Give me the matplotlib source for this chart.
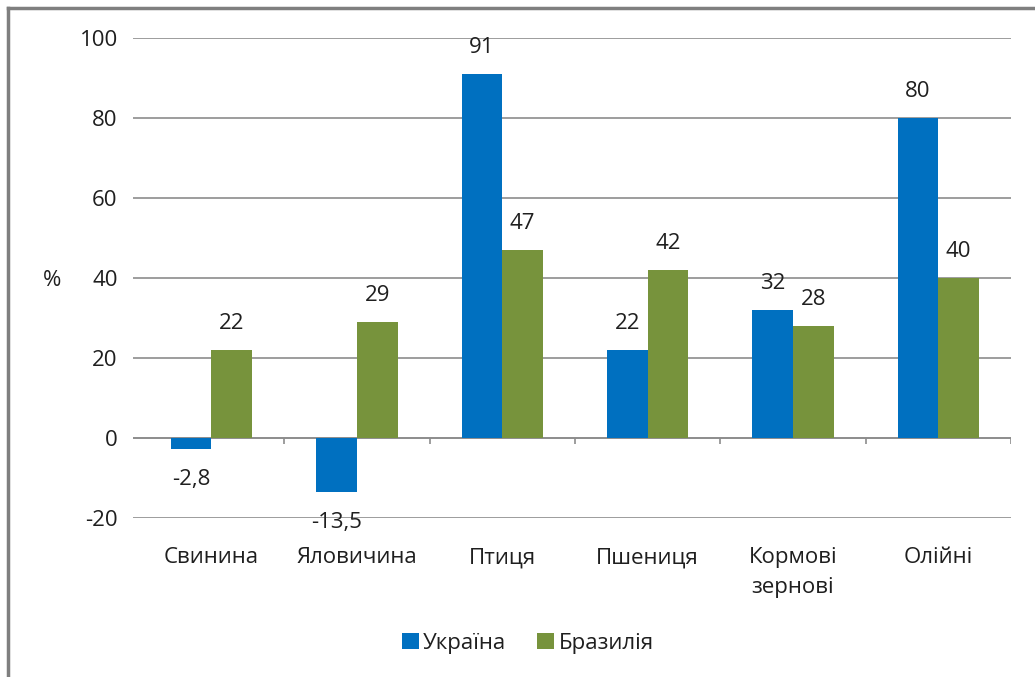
import matplotlib.pyplot as plt
import matplotlib.lines as mlines
import numpy as np

plt.rcParams['font.family'] = ['Open Sans', 'DejaVu Sans']
plt.rcParams['axes.unicode_minus'] = False

# Data
categories = ["Свинина", "Яловичина", "Птиця", "Пшениця", "Кормові\nзернові", "Олійні"]
ukraine = [-2.8, -13.5, 91, 22, 32, 80]
brazil = [22, 29, 47, 42, 28, 40]
series_names = ["Україна", "Бразилія"]
colors = ["#0070C0", "#77933C"]

W, H = 1035, 677
fig = plt.figure(figsize=(W / 100, H / 100), dpi=100)
ax = fig.add_axes([133 / W, 1 - 518 / H, (1011 - 133) / W, 480 / H])

x = np.arange(len(categories))
bw = 0.28
ax.bar(x - bw / 2, ukraine, bw, color=colors[0], label=series_names[0], zorder=3)
ax.bar(x + bw / 2, brazil, bw, color=colors[1], label=series_names[1], zorder=3)

fs = 16
txt = "#1f1f1f"

def fmt(v):
    s = ("%g" % v).replace(".", ",")
    return s

for xs, vals in ((x - bw / 2, ukraine), (x + bw / 2, brazil)):
    for xi, v in zip(xs, vals):
        off = 11.5 if v >= 0 else -14.5
        ax.annotate(fmt(v), (xi, v), xytext=(0, off), textcoords="offset points",
                    ha="center", va="bottom" if v >= 0 else "top",
                    fontsize=fs, color=txt, zorder=4)

ax.set_ylim(-20, 100)
ax.set_xlim(-0.54, 5.5)
ax.set_yticks(range(-20, 101, 20))
ax.set_xticks(x)
ax.set_xticklabels(categories, fontsize=fs, color=txt, linespacing=1.55)
ax.tick_params(axis="x", length=0, pad=21)
ax.tick_params(axis="y", length=0, pad=11, labelsize=fs, labelcolor=txt)
ax.grid(axis="y", color="#8c8c8c", linewidth=1.2, zorder=0)
for s in ax.spines.values():
    s.set_visible(False)

# zero axis line with category dividers
ax.axhline(0, color="#8c8c8c", linewidth=1.2, zorder=2)
ax.vlines(np.arange(0.5, len(categories), 1), -1.5, 0, color="#8c8c8c", linewidth=1.2, zorder=2)

fig.text(52 / W, 1 - 280 / H, "%", fontsize=fs, color=txt, ha="center", va="center")

fig.legend(loc="center", bbox_to_anchor=(0.51, 1 - 643 / H), ncol=2, frameon=False,
           fontsize=fs, handlelength=0.75, handleheight=0.75, handletextpad=0.2,
           columnspacing=1.4, labelcolor=txt)

# outer border
fig.add_artist(mlines.Line2D([8 / W, 8 / W], [0, 1 - 8 / H], color="#7f7f7f", linewidth=2.5))
fig.add_artist(mlines.Line2D([8 / W, 1], [1 - 8 / H, 1 - 8 / H], color="#7f7f7f", linewidth=2.5))

fig.savefig("out.png", dpi=100)
